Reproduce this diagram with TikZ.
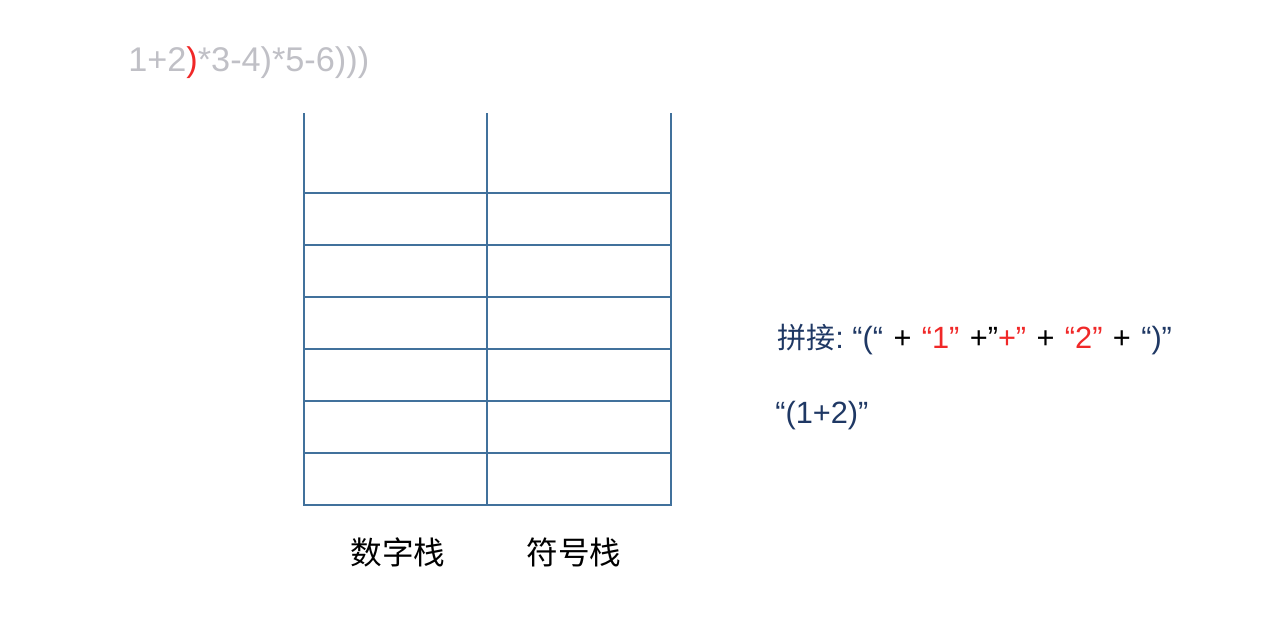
\documentclass[tikz,border=0pt]{standalone}
\usepackage{fontspec}
\setmainfont{Liberation Sans}
\newfontfamily\cjk{Noto Sans CJK SC}
\usepackage{tikz}
\definecolor{stackblue}{RGB}{65,113,156}
\definecolor{exprgray}{RGB}{192,192,198}
\definecolor{hired}{RGB}{240,40,40}
\definecolor{navy}{RGB}{31,56,100}
\tikzset{
	cellline/.style={line width=1.1pt, color=stackblue},
	openline/.style={line width=0.6pt, color=stackblue},
	stacklabel/.style={font=\cjk\fontsize{18}{20}\selectfont, anchor=center, inner sep=0pt},
	notetext/.style={font=\fontsize{17.5}{20}\selectfont, color=navy, anchor=base west, inner sep=0pt}
}
\newcommand{\gap}{\hspace{0.06em}}

\begin{document}
\begin{tikzpicture}[x=0.02cm, y=-0.02cm]
			%%%%% START %%%%%
			\useasboundingbox (0, 0) rectangle (1274, 637);
			
			% expression being read
			\node[font=\fontsize{19.5}{22}\selectfont, color=exprgray, anchor=base west, inner sep=0pt] (expr) at (128, 71) {1+2\textcolor{hired}{)}*3-4)*5-6)))};
			
			% open top of the two stacks
			\draw[openline] (304, 113) -- (304, 193);
			\draw[openline] (487, 113) -- (487, 193);
			\draw[openline] (671, 113) -- (671, 193);
			
			% stack cells
			\foreach \y in {193, 245, 297, 349, 401, 453} {
				\draw[cellline] (304, \y) rectangle (487, \y+52);
				\draw[cellline] (487, \y) rectangle (671, \y+52);
			}
			
			\node[stacklabel] (numstack) at (398, 552) {数字栈};
			\node[stacklabel] (opstack) at (574, 552) {符号栈};
			
			% concatenation note
			\node[notetext] (concat) at (777, 348) {{\cjk\fontsize{16.5}{20}\selectfont 拼接}:\ “(“\gap\ \textcolor{black}{+}\gap\ \textcolor{hired}{“1”}\gap\ \textcolor{black}{+”}\textcolor{hired}{+”}\gap\ \textcolor{black}{+}\gap\ \textcolor{hired}{“2”}\gap\ \textcolor{black}{+}\gap\ “)”};
			\node[notetext] (result) at (775, 423) {“(1+2)”};
			
			%%%%% END %%%%%
\end{tikzpicture}
\end{document}
